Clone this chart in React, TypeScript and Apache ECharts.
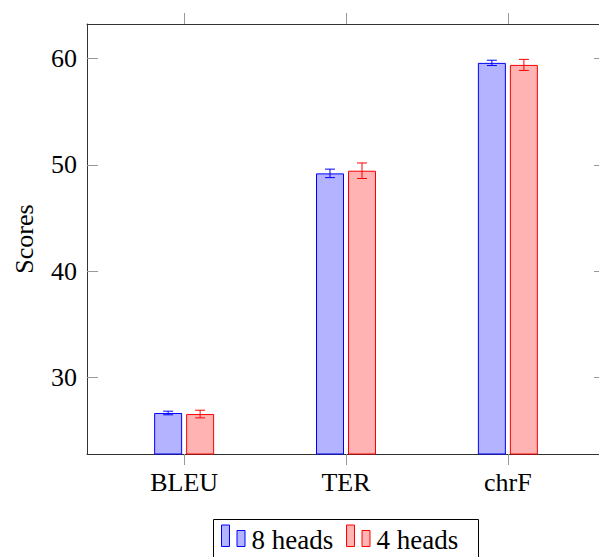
import React, { useEffect, useRef } from "react";
import * as echarts from "echarts";

const categories = ["BLEU", "TER", "chrF"];
const seriesNames = ["8 heads", "4 heads"];
const heads8 = [26.64, 49.19, 59.59];
const heads8Err = [0.17, 0.4, 0.25];
const heads4 = [26.54, 49.44, 59.4];
const heads4Err = [0.36, 0.73, 0.52];
const yTicks = [30, 40, 50, 60];
const yMin = 22.78;
const yMax = 63.25;

const FONT = "Liberation Serif";
const BAR_W = 28;
const BAR_GAP = 4;
const X_PAD = 0.6;
const strokes = ["#0000ff", "#ff0000"];
const fills = ["#b3b3ff", "#ffb3b3"];

export default function App() {
  const ref = useRef<HTMLDivElement>(null);
  useEffect(() => {
    document.body.style.margin = "0";
    if (!ref.current) return;
    const chart = echarts.init(ref.current, null, { renderer: "svg" });
    const values = [heads8, heads4];
    const errs = [heads8Err, heads4Err];
    const offsets = [-(BAR_W + BAR_GAP) / 2, (BAR_W + BAR_GAP) / 2];
    const catIdx = categories.map((_, i) => i);

    const barSeries = seriesNames.map((name, s) => ({
      type: "bar",
      name,
      data: values[s].map((v, i) => [i, v]),
      barWidth: BAR_W,
      barGap: `${(BAR_GAP / BAR_W) * 100}%`,
      itemStyle: { color: fills[s], borderColor: strokes[s], borderWidth: 1 },
      z: 2,
    }));

    const errSeries = seriesNames.map((name, s) => ({
      type: "custom",
      name: name + " err",
      data: values[s].map((v, i) => [i, v - errs[s][i], v + errs[s][i]]),
      encode: { x: 0, y: [1, 2] },
      z: 5,
      renderItem: (params: any, api: any) => {
        const i = api.value(0);
        const lo = api.coord([i, api.value(1)]);
        const hi = api.coord([i, api.value(2)]);
        const x = lo[0] + offsets[s];
        const cap = 5;
        const style = { stroke: strokes[s], lineWidth: 1 };
        return {
          type: "group",
          children: [
            { type: "line", shape: { x1: x, y1: lo[1], x2: x, y2: hi[1] }, style },
            { type: "line", shape: { x1: x - cap, y1: lo[1], x2: x + cap, y2: lo[1] }, style },
            { type: "line", shape: { x1: x - cap, y1: hi[1], x2: x + cap, y2: hi[1] }, style },
          ],
        };
      },
    }));

    const legendItems: any[] = [
      {
        type: "rect",
        z: 10,
        shape: { x: 213.5, y: 519.5, width: 265, height: 60 },
        style: { fill: "#fff", stroke: "#000", lineWidth: 1 },
      },
    ];
    const legendX = [221.5, 346.5];
    seriesNames.forEach((name, s) => {
      const x0 = legendX[s];
      legendItems.push({
        type: "rect",
        z: 11,
        shape: { x: x0, y: 525, width: 8, height: 21.5 },
        style: { fill: fills[s], stroke: strokes[s], lineWidth: 1 },
      });
      legendItems.push({
        type: "rect",
        z: 11,
        shape: { x: x0 + 15.5, y: 530.5, width: 8, height: 16 },
        style: { fill: fills[s], stroke: strokes[s], lineWidth: 1 },
      });
      legendItems.push({
        type: "text",
        z: 11,
        x: x0 + 30,
        y: 539.5,
        style: {
          text: name,
          fontFamily: FONT,
          fontSize: 27,
          fill: "#000",
          verticalAlign: "middle",
          align: "left",
        },
      });
    });

    const axisLine = { show: true, onZero: false, lineStyle: { color: "#333", width: 1 } };
    const tickStyle = { color: "#999", width: 1 };

    chart.setOption({
      animation: false,
      textStyle: { fontFamily: FONT },
      grid: {
        left: 87,
        top: 24,
        width: 518,
        height: 430,
        outerBoundsMode: "none",
        containLabel: false,
      },
      xAxis: [
        {
          type: "value",
          min: -X_PAD,
          max: categories.length - 1 + X_PAD,
          position: "bottom",
          axisLine,
          axisTick: { show: true, inside: false, length: 11, lineStyle: tickStyle, customValues: catIdx },
          axisLabel: {
            color: "#000",
            fontSize: 26,
            fontFamily: FONT,
            margin: 15,
            customValues: catIdx,
            formatter: (v: number) => categories[Math.round(v)] ?? "",
          },
          splitLine: { show: false },
        },
        {
          type: "value",
          min: -X_PAD,
          max: categories.length - 1 + X_PAD,
          position: "top",
          axisLine,
          axisTick: { show: true, inside: false, length: 11, lineStyle: tickStyle, customValues: catIdx },
          axisLabel: { show: false, customValues: catIdx },
          splitLine: { show: false },
        },
      ],
      yAxis: [
        {
          type: "value",
          min: yMin,
          max: yMax,
          position: "left",
          name: "Scores",
          nameLocation: "middle",
          nameGap: 50,
          nameTextStyle: { color: "#000", fontSize: 26, fontFamily: FONT },
          axisLine,
          axisTick: { show: true, inside: true, length: 11, lineStyle: tickStyle, customValues: yTicks },
          axisLabel: { color: "#000", fontSize: 26, fontFamily: FONT, margin: 10, customValues: yTicks },
          splitLine: { show: false },
        },
        {
          type: "value",
          min: yMin,
          max: yMax,
          position: "right",
          axisLine,
          axisTick: { show: true, inside: true, length: 11, lineStyle: tickStyle, customValues: yTicks },
          axisLabel: { show: false, customValues: yTicks },
          splitLine: { show: false },
        },
      ],
      series: [...barSeries, ...errSeries],
      graphic: legendItems,
    });
    return () => chart.dispose();
  }, []);
  return <div ref={ref} style={{ width: 599, height: 557 }} />;
}
